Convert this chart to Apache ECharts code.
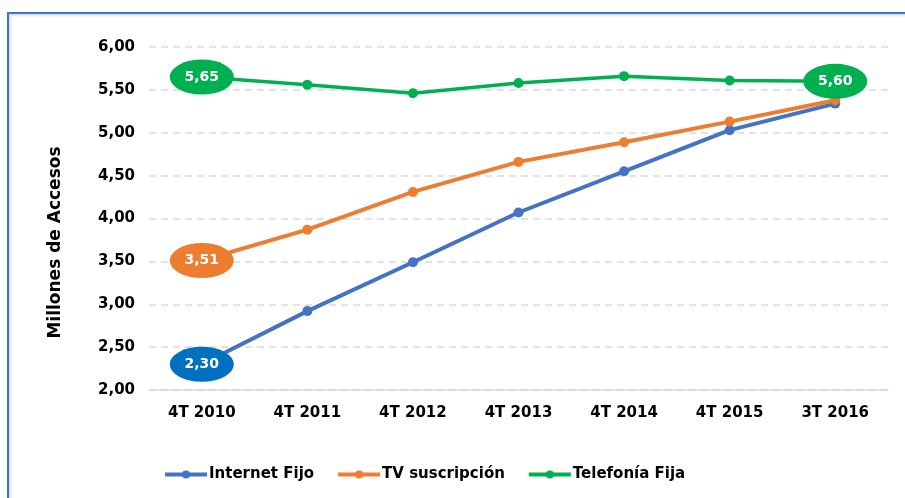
<!DOCTYPE html>
<html>
<head>
<meta charset="utf-8">
<script src="https://cdn.jsdelivr.net/npm/echarts@6/dist/echarts.min.js"></script>
<style>
  html, body { margin: 0; padding: 0; background: #fff; }
  #chart { width: 905px; height: 498px; }
</style>
</head>
<body>
<div id="chart"></div>
<script>
// datos
const periodos = ['4T 2010', '4T 2011', '4T 2012', '4T 2013', '4T 2014', '4T 2015', '3T 2016'];
const internetFijo = [2.30, 2.92, 3.49, 4.07, 4.55, 5.03, 5.34];
const tvSuscripcion = [3.51, 3.87, 4.31, 4.66, 4.89, 5.13, 5.38];
const telefoniaFija = [5.65, 5.56, 5.46, 5.58, 5.66, 5.61, 5.60];
const nombres = ['Internet Fijo', 'TV suscripción', 'Telefonía Fija'];

const fuente = 'DejaVu Sans';
const coma = v => Number(v).toFixed(2).replace('.', ',');

// marca el primer y último punto con una elipse (etiqueta)
const conEtiquetas = (valores, color, marcar) => valores.map((v, i) => {
    if (!marcar.includes(i)) return v;
    return {
        value: v,
        symbol: 'circle',
        symbolSize: [64, 35],
        itemStyle: { color: color },
        label: {
            show: true,
            position: 'inside',
            formatter: p => coma(p.value),
            color: '#fff',
            fontFamily: fuente,
            fontWeight: 'bold',
            fontSize: 14
        }
    };
});

const serie = (nombre, datos, color, ancho) => ({
    name: nombre,
    type: 'line',
    data: datos,
    symbol: 'circle',
    symbolSize: 10,
    lineStyle: { color: color, width: ancho },
    itemStyle: { color: color },
    emphasis: { disabled: true },
    z: 3
});

const chart = echarts.init(document.getElementById('chart'));
chart.setOption({
    animation: false,
    graphic: [{
        type: 'rect',
        shape: { x: 8, y: 13, width: 920, height: 520 },
        style: { fill: 'none', stroke: '#4472C4', lineWidth: 2, shadowColor: 'rgba(0,0,0,0.25)', shadowBlur: 3, shadowOffsetX: 1, shadowOffsetY: 1 },
        z: -1
    }],
    grid: { left: 149, right: 17, top: 47, bottom: 108 },
    legend: {
        bottom: 11,
        left: 158,
        itemGap: 22,
        itemWidth: 42,
        itemHeight: 10,
        lineStyle: { width: 4 },
        textStyle: { fontFamily: fuente, fontWeight: 'bold', fontSize: 15, color: '#000', padding: [0, 0, 0, -3] },
        data: nombres
    },
    xAxis: {
        type: 'category',
        data: periodos,
        axisLine: { lineStyle: { color: '#D9D9D9', width: 1.5 } },
        axisTick: { show: false },
        axisLabel: { fontFamily: fuente, fontWeight: 'bold', fontSize: 15, color: '#000', margin: 16 }
    },
    yAxis: {
        type: 'value',
        min: 2,
        max: 6,
        interval: 0.5,
        name: 'Millones de Accesos',
        nameLocation: 'middle',
        nameGap: 85,
        nameTextStyle: { fontFamily: fuente, fontWeight: 'bold', fontSize: 17, color: '#000', padding: [0, 48, 0, 0] },
        axisLine: { show: false },
        axisTick: { show: false },
        axisLabel: { formatter: coma, fontFamily: fuente, fontWeight: 'bold', fontSize: 15, color: '#000', margin: 14 },
        splitLine: { lineStyle: { color: '#D9D9D9', type: [7, 5], width: 1.5 } }
    },
    series: [
        serie(nombres[0], conEtiquetas(internetFijo, '#0070C0', [0]), '#4472C4', 4),
        serie(nombres[1], conEtiquetas(tvSuscripcion, '#ED7D31', [0]), '#ED7D31', 4),
        serie(nombres[2], conEtiquetas(telefoniaFija, '#00B050', [0, 6]), '#00B050', 3.5)
    ]
});

window.addEventListener('resize', () => chart.resize());
</script>
</body>
</html>
